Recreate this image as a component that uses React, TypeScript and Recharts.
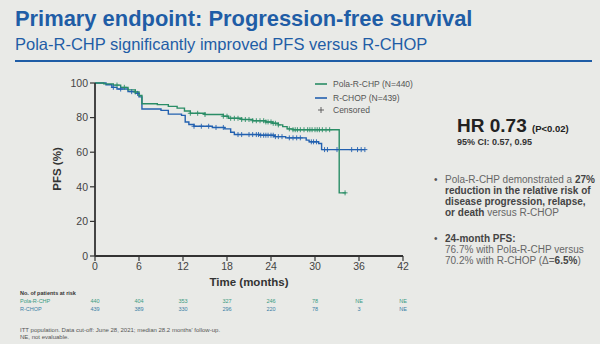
import React from 'react';
import { ComposedChart, Line, Scatter, XAxis, YAxis } from 'recharts';

// Kaplan-Meier steps (months, PFS %)
const polaTime = [0, 1.2, 2.5, 3.5, 4.5, 5.5, 6.0, 6.4, 8.5, 10, 11.2, 12.2, 13, 15, 17.5, 18.2, 20, 21.5, 23.3, 24.2, 25.0, 25.6, 26.2, 27, 33.3, 34.2];
const polaPfs = [100, 99.5, 98.8, 97.5, 96, 94.8, 92.8, 88, 87.5, 86.5, 85.5, 83.8, 82.5, 81.8, 80.8, 79.6, 78.9, 78.2, 77.5, 76.7, 75.8, 74.8, 73.5, 73, 36.5, 36.5];
const rchopTime = [0, 1.5, 2.3, 3, 4.5, 5.5, 6.0, 6.4, 9, 10, 11.8, 12.3, 12.8, 13.5, 16, 17.7, 18.5, 19, 22.5, 24.5, 26, 28.8, 29.2, 30.5, 30.9, 36.8];
const rchopPfs = [100, 99, 97.5, 96.5, 95, 94, 92, 85, 84.2, 82, 81.3, 77.5, 76, 75, 74.3, 73.5, 71.5, 70.2, 69.8, 69, 68.3, 67, 66, 65, 61.5, 61.5];

const polaCensored = [3, 4, 5.5, 13, 14, 15, 17.5, 18, 18.5, 19, 19.5, 20, 20.5, 21, 21.5, 22, 22.5, 23, 23.3, 23.6, 24, 24.3, 24.6, 25, 26.5, 27, 27.3, 27.6, 28, 28.5, 29, 29.3, 29.6, 30, 30.3, 30.6, 31, 31.5, 32, 34.1];
const rchopCensored = [2.5, 3.5, 5, 5.8, 13.5, 14.5, 15.5, 16.5, 17.5, 19.5, 20, 21, 21.5, 22, 22.3, 22.6, 23, 23.3, 23.6, 24, 24.3, 24.6, 25, 25.5, 26.5, 27, 27.5, 28, 29.5, 29.8, 30.2, 31.3, 31.7, 33, 35, 35.8, 36.3, 36.8];

const timeTicks = [0, 6, 12, 18, 24, 30, 36, 42];
const pfsTicks = [0, 20, 40, 60, 80, 100];
const polaAtRisk = ['440', '404', '353', '327', '246', '78', 'NE', 'NE'];
const rchopAtRisk = ['439', '389', '330', '296', '220', '78', '3', 'NE'];

const GREEN = '#2a8d66';
const BLUE = '#2361b0';
const TITLE = '#1f5da6';
const FONT = '"Liberation Sans", Arial, sans-serif';

function toSeries(times: number[], values: number[]) {
  return times.map((t, i) => ({ t, pfs: values[i] }));
}

function valueAt(times: number[], values: number[], t: number) {
  let v = values[0];
  for (let i = 0; i < times.length; i++) if (times[i] <= t) v = values[i];
  return v;
}

const polaData = toSeries(polaTime, polaPfs);
const rchopData = toSeries(rchopTime, rchopPfs);
const polaMarks = polaCensored.map((t) => ({ t, pfs: valueAt(polaTime, polaPfs, t) }));
const rchopMarks = rchopCensored.map((t) => ({ t, pfs: valueAt(rchopTime, rchopPfs, t) }));

const plus = (color: string) => (props: any) => {
  const { cx, cy } = props;
  if (cx == null || cy == null) return <g />;
  return <path d={`M${cx - 2.5},${cy}h5M${cx},${cy - 2.5}v5`} stroke={color} strokeWidth={0.9} fill="none" />;
};

const tickStyle = { fill: '#444', fontSize: 10.5, fontFamily: FONT };

export default function App() {
  const xPos = (m: number) => 95 + (m / 42) * 308;
  return (
    <div style={{ position: 'absolute', left: 0, top: 0, width: 600, height: 344, background: '#e9eae7', overflow: 'hidden' }}>
      <ComposedChart width={600} height={344} margin={{ top: 83, right: 197, bottom: 58, left: 40 }}>
        <XAxis
          dataKey="t"
          type="number"
          domain={[0, 42]}
          ticks={timeTicks}
          tick={tickStyle}
          axisLine={{ stroke: '#333', strokeWidth: 1.8 }}
          tickLine={{ stroke: '#333', strokeWidth: 1.2 }}
          tickSize={5}
          height={30}
          allowDuplicatedCategory={false}
        />
        <YAxis
          type="number"
          domain={[0, 100]}
          ticks={pfsTicks}
          tick={tickStyle}
          axisLine={{ stroke: '#333', strokeWidth: 1.8 }}
          tickLine={{ stroke: '#333', strokeWidth: 1.2 }}
          tickSize={5}
          width={55}
        />
        <Line data={rchopData} dataKey="pfs" type="stepAfter" stroke={BLUE} strokeWidth={1.4} dot={false} isAnimationActive={false} />
        <Line data={polaData} dataKey="pfs" type="stepAfter" stroke={GREEN} strokeWidth={1.4} dot={false} isAnimationActive={false} />
        <Scatter data={rchopMarks} dataKey="pfs" shape={plus(BLUE)} isAnimationActive={false} />
        <Scatter data={polaMarks} dataKey="pfs" shape={plus(GREEN)} isAnimationActive={false} />
      </ComposedChart>

      <svg width={600} height={344} style={{ position: 'absolute', left: 0, top: 0, pointerEvents: 'none' }} fontFamily={FONT}>
        <text x={15} y={25.5} fontSize={21.9} fontWeight="bold" fill={TITLE}>Primary endpoint: Progression-free survival</text>
        <text x={15} y={50} fontSize={16.5} fill={TITLE}>Pola-R-CHP significantly improved PFS versus R-CHOP</text>
        <line x1={15} x2={592} y1={61} y2={61} stroke={TITLE} strokeWidth={2} />

        <text x={57} y={169} fontSize={11.5} fontWeight="bold" fill="#333" textAnchor="middle" dominantBaseline="central" transform="rotate(-90 57 169)">PFS (%)</text>
        <text x={249} y={286} fontSize={11.5} fontWeight="bold" fill="#333" textAnchor="middle">Time (months)</text>

        {/* legend */}
        <line x1={315} x2={327} y1={84} y2={84} stroke={GREEN} strokeWidth={1.6} />
        <text x={333} y={87} fontSize={8.5} fill="#555">Pola-R-CHP (N=440)</text>
        <line x1={315} x2={327} y1={98} y2={98} stroke={BLUE} strokeWidth={1.6} />
        <text x={333} y={101} fontSize={8.5} fill="#555">R-CHOP (N=439)</text>
        <path d="M318,110h6M321,107v6" stroke="#555" strokeWidth={0.9} />
        <text x={333} y={113} fontSize={8.5} fill="#555">Censored</text>

        {/* risk table */}
        <text x={20} y={295} fontSize={5.5} fontWeight="bold" fill="#333">No. of patients at risk</text>
        <text x={20} y={303} fontSize={5.5} fill="#3a9a82">Pola-R-CHP</text>
        <text x={20} y={310.5} fontSize={5.5} fill="#3a7fa6">R-CHOP</text>
        {timeTicks.map((m, i) => (
          <g key={m}>
            <text x={xPos(m)} y={303} fontSize={5.5} fill="#3a9a82" textAnchor="middle">{polaAtRisk[i]}</text>
            <text x={xPos(m)} y={310.5} fontSize={5.5} fill="#3a7fa6" textAnchor="middle">{rchopAtRisk[i]}</text>
          </g>
        ))}

        <text x={20} y={331.5} fontSize={6} fill="#555">ITT population. Data cut-off: June 28, 2021; median 28.2 months' follow-up.</text>
        <text x={20} y={339} fontSize={6} fill="#555">NE, not evaluable.</text>

        {/* right panel */}
        <text x={457} y={131.5} fontSize={19} fontWeight="bold" fill="#222">HR 0.73 <tspan fontSize={9.5} dy={0}>(P&lt;0.02)</tspan></text>
        <text x={457} y={145} fontSize={9} fontWeight="bold" fill="#333">95% CI: 0.57, 0.95</text>

        <text x={434} y={183} fontSize={10} fill="#555">•</text>
        <text fontSize={10} fill="#666">
          <tspan x={445} y={183}>Pola-R-CHP demonstrated a <tspan fontWeight="bold" fill="#444">27%</tspan></tspan>
          <tspan x={445} y={194} fontWeight="bold" fill="#444">reduction in the relative risk of</tspan>
          <tspan x={445} y={205} fontWeight="bold" fill="#444">disease progression, relapse,</tspan>
          <tspan x={445} y={216}><tspan fontWeight="bold" fill="#444">or death</tspan> versus R-CHOP</tspan>
        </text>

        <text x={434} y={241.5} fontSize={10} fill="#555">•</text>
        <text fontSize={10} fill="#666">
          <tspan x={445} y={241.5} fontWeight="bold" fill="#444">24-month PFS:</tspan>
          <tspan x={445} y={252.5}>76.7% with Pola-R-CHP versus</tspan>
          <tspan x={445} y={263.5}>70.2% with R-CHOP (Δ=<tspan fontWeight="bold" fill="#444">6.5%</tspan>)</tspan>
        </text>
      </svg>
    </div>
  );
}
